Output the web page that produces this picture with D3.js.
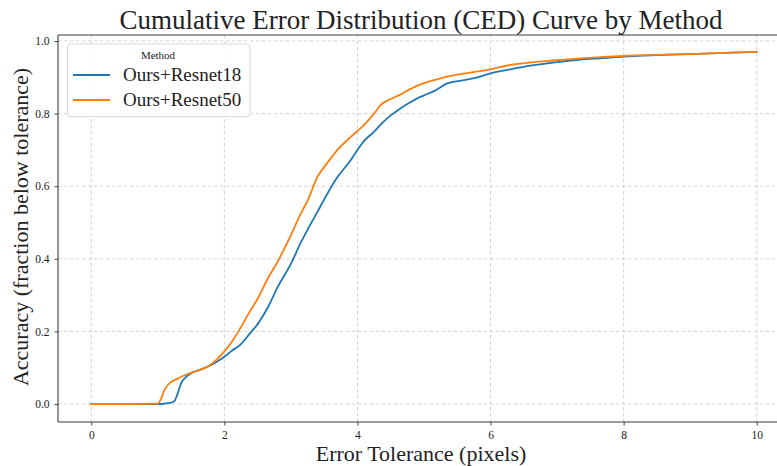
<!DOCTYPE html>
<html>
<head>
<meta charset="utf-8">
<script src="https://cdn.jsdelivr.net/npm/d3@7"></script>
<style>
  html, body { margin: 0; padding: 0; background: #fff; }
  svg { display: block; }
  text { font-family: "Liberation Serif", "DejaVu Serif", serif; fill: #222; }
</style>
</head>
<body>
<svg id="chart" width="777" height="466"></svg>
<script>
// ---- data ----
const tolerance = [0, 0.5, 1.0, 1.05, 1.1, 1.2, 1.25, 1.3, 1.35, 1.4, 1.5, 1.6, 1.75, 1.9, 2.0, 2.1, 2.25, 2.4, 2.5, 2.65, 2.8, 3.0, 3.15, 3.25, 3.4, 3.55, 3.7, 3.9, 4.0, 4.1, 4.25, 4.35, 4.5, 4.65, 4.8, 4.9, 5.0, 5.15, 5.35, 5.6, 5.8, 6.0, 6.3, 6.6, 7.0, 7.35, 7.7, 8.0, 8.5, 9.0, 9.5, 10.0];
const resnet18 = [0, 0, 0, 0, 0.001, 0.004, 0.008, 0.03, 0.057, 0.07, 0.085, 0.092, 0.103, 0.118, 0.13, 0.145, 0.165, 0.198, 0.22, 0.265, 0.322, 0.386, 0.445, 0.48, 0.53, 0.58, 0.625, 0.672, 0.70, 0.725, 0.75, 0.77, 0.795, 0.815, 0.832, 0.842, 0.85, 0.862, 0.883, 0.892, 0.90, 0.911, 0.922, 0.932, 0.942, 0.949, 0.953, 0.957, 0.961, 0.964, 0.967, 0.970];
const resnet50 = [0, 0, 0.001, 0.015, 0.039, 0.061, 0.066, 0.07, 0.075, 0.079, 0.086, 0.092, 0.103, 0.125, 0.145, 0.168, 0.212, 0.26, 0.29, 0.345, 0.392, 0.465, 0.525, 0.56, 0.626, 0.665, 0.70, 0.736, 0.752, 0.769, 0.80, 0.824, 0.84, 0.853, 0.868, 0.877, 0.884, 0.892, 0.902, 0.91, 0.916, 0.922, 0.934, 0.941, 0.947, 0.952, 0.956, 0.959, 0.962, 0.964, 0.967, 0.970];
const seriesNames = ["Ours+Resnet18", "Ours+Resnet50"];
const seriesColors = ["#1f77b4", "#ff7f0e"];
const xTicks = [0, 2, 4, 6, 8, 10];
const yTicks = [0.0, 0.2, 0.4, 0.6, 0.8, 1.0];
const titleText = "Cumulative Error Distribution (CED) Curve by Method";
const xLabel = "Error Tolerance (pixels)";
const yLabel = "Accuracy (fraction below tolerance)";
const legendTitle = "Method";

// ---- layout ----
const svg = d3.select("#chart");
const mLeft = 58, mRight = 790, mTop = 35, mBottom = 422;
const x = d3.scaleLinear().domain([-0.5, 10.5]).range([mLeft, mRight]);
const y = d3.scaleLinear().domain([-0.0496, 1.0165]).range([mBottom, mTop]);

// grid
const grid = svg.append("g");
grid.selectAll("line.vx").data(xTicks).join("line")
  .attr("x1", d => x(d)).attr("x2", d => x(d)).attr("y1", mTop).attr("y2", mBottom)
  .attr("stroke", "#cfcfcf").attr("stroke-width", 0.9).attr("stroke-dasharray", "3.5,2.5");
grid.selectAll("line.hy").data(yTicks).join("line")
  .attr("y1", d => y(d)).attr("y2", d => y(d)).attr("x1", mLeft).attr("x2", mRight)
  .attr("stroke", "#cfcfcf").attr("stroke-width", 0.9).attr("stroke-dasharray", "3.5,2.5");

// lines
const series = [resnet18, resnet50];
const line = d3.line().x((d, i) => x(tolerance[i])).y(d => y(d)).curve(d3.curveMonotoneX);
series.forEach((vals, k) => {
  svg.append("path").datum(vals).attr("d", line)
    .attr("fill", "none").attr("stroke", seriesColors[k]).attr("stroke-width", 1.8)
    .attr("stroke-linejoin", "round").attr("stroke-linecap", "square");
});

// axes
const xAxis = d3.axisBottom(x).tickValues(xTicks).tickFormat(d3.format("d")).tickSize(3.5).tickPadding(5);
const yAxis = d3.axisLeft(y).tickValues(yTicks).tickFormat(d3.format(".1f")).tickSize(3.5).tickPadding(5);
const gx = svg.append("g").attr("transform", `translate(0,${mBottom})`).call(xAxis);
const gy = svg.append("g").attr("transform", `translate(${mLeft},0)`).call(yAxis);
[gx, gy].forEach(g => {
  g.select(".domain").remove();
  g.selectAll(".tick line").attr("stroke", "#333").attr("stroke-width", 0.9);
  g.selectAll(".tick text").attr("font-family", "Liberation Serif, serif").attr("font-size", 11.5).attr("fill", "#333");
});

// spines
const spine = (x1, y1, x2, y2) => svg.append("line").attr("x1", x1).attr("x2", x2).attr("y1", y1).attr("y2", y2)
  .attr("stroke", "#3a3a3a").attr("stroke-width", 1.1);
spine(mLeft, mTop, mLeft, mBottom);
spine(mLeft, mBottom, mRight, mBottom);
spine(mLeft, mTop, mRight, mTop);
spine(mRight, mTop, mRight, mBottom);

// titles
svg.append("text").attr("x", 421).attr("y", 29).attr("text-anchor", "middle")
  .attr("font-size", 27).text(titleText);
svg.append("text").attr("x", 421).attr("y", 461).attr("text-anchor", "middle")
  .attr("font-size", 22).text(xLabel);
svg.append("text").attr("transform", `translate(28,227) rotate(-90)`).attr("text-anchor", "middle")
  .attr("font-size", 22).text(yLabel);

// legend
const lg = svg.append("g");
lg.append("rect").attr("x", 67.5).attr("y", 44).attr("width", 182.5).attr("height", 72.5).attr("rx", 3)
  .attr("fill", "#fff").attr("fill-opacity", 0.85).attr("stroke", "#d9d9d9").attr("stroke-width", 1);
lg.append("text").attr("x", 158).attr("y", 59).attr("text-anchor", "middle").attr("font-size", 11).text(legendTitle);
seriesNames.forEach((name, k) => {
  const yy = 75 + k * 25;
  lg.append("line").attr("x1", 73).attr("x2", 110).attr("y1", yy).attr("y2", yy)
    .attr("stroke", seriesColors[k]).attr("stroke-width", 1.8);
  lg.append("text").attr("x", 123).attr("y", yy + 6).attr("font-size", 19).text(name);
});
</script>
</body>
</html>
